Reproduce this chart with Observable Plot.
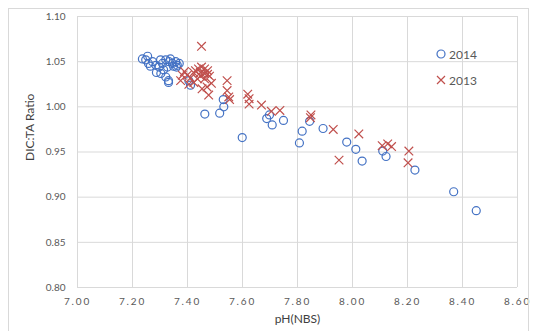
<!DOCTYPE html>
<html>
<head>
<meta charset="utf-8">
<script src="https://cdn.jsdelivr.net/npm/d3@7"></script>
<script src="https://cdn.jsdelivr.net/npm/@observablehq/plot@0.6"></script>
<style>
  html, body { margin: 0; padding: 0; background: #fff; }
  #wrap { position: relative; width: 533px; height: 331px; overflow: hidden; }
  #frame { position: absolute; left: 8px; top: 8px; width: 521px; height: 330px; border: 1px solid #d9d9d9; box-sizing: border-box; pointer-events: none; }
  #legend { position: absolute; left: 435px; top: 45px; font: 12px Lato, "Liberation Sans", sans-serif; color: #595959; }
  #legend .row { display: flex; align-items: center; height: 18px; margin-bottom: 8px; }
  #legend svg { margin-right: 2px; }
  .xt text { letter-spacing: 1.8px; }
</style>
</head>
<body>
<div id="wrap">
  <div id="chart"></div>
  <div id="frame"></div>
  <div id="legend"></div>
</div>
<script>
// ---- Data ----
const seriesNames = ["2014", "2013"];
const seriesColors = ["#4472C4", "#C0504D"];

const ph2014 = [7.236, 7.248, 7.258, 7.255, 7.273, 7.265, 7.285, 7.297, 7.309, 7.302,
  7.321, 7.333, 7.345, 7.357, 7.370, 7.338, 7.327, 7.349, 7.360, 7.313,
  7.287, 7.303, 7.321, 7.331, 7.331, 7.363, 7.405, 7.411,
  7.463, 7.517, 7.532, 7.530, 7.599, 7.688, 7.698, 7.708, 7.749, 7.817,
  7.807, 7.844, 7.893, 7.979, 8.012, 8.035, 8.110, 8.122, 8.227, 8.368, 8.450];
const ratio2014 = [1.053, 1.052, 1.048, 1.056, 1.050, 1.045, 1.046, 1.044, 1.048, 1.052,
  1.052, 1.050, 1.048, 1.050, 1.048, 1.053, 1.044, 1.045, 1.044, 1.041,
  1.038, 1.037, 1.033, 1.029, 1.027, 1.046, 1.029, 1.024,
  0.992, 0.993, 1.000, 1.008, 0.966, 0.987, 0.991, 0.980, 0.985, 0.973,
  0.960, 0.984, 0.976, 0.961, 0.953, 0.940, 0.951, 0.945, 0.930, 0.906, 0.885];

const ph2013 = [7.451, 7.429, 7.440, 7.451, 7.462, 7.473, 7.447, 7.462, 7.473, 7.447,
  7.436, 7.462, 7.480, 7.422, 7.381, 7.375, 7.399, 7.389, 7.423, 7.453,
  7.471, 7.477, 7.487, 7.411, 7.405, 7.544, 7.544, 7.550, 7.553, 7.619,
  7.624, 7.624, 7.669, 7.705, 7.736, 7.849, 7.847, 7.930, 7.951, 8.023,
  8.108, 8.128, 8.142, 8.205, 8.202];
const ratio2013 = [1.067, 1.040, 1.042, 1.044, 1.042, 1.040, 1.038, 1.037, 1.036, 1.034,
  1.031, 1.031, 1.034, 1.038, 1.035, 1.029, 1.035, 1.039, 1.027, 1.020,
  1.022, 1.013, 1.026, 1.032, 1.025, 1.029, 1.018, 1.011, 1.008, 1.014,
  1.009, 1.003, 1.002, 0.995, 0.996, 0.991, 0.988, 0.975, 0.941, 0.970,
  0.957, 0.959, 0.956, 0.951, 0.938];

const xTicks = [7.0, 7.2, 7.4, 7.6, 7.8, 8.0, 8.2, 8.4, 8.6];
const yTicks = [0.80, 0.85, 0.90, 0.95, 1.00, 1.05, 1.10];
const xTitle = "pH(NBS)";
const yTitle = "DIC:TA Ratio";

// ---- Build tables ----
const d2014 = ph2014.map((x, i) => ({x, y: ratio2014[i]}));
const d2013 = ph2013.map((x, i) => ({x, y: ratio2013[i]}));

const font = "Lato, 'Liberation Sans', sans-serif";

const chart = Plot.plot({
  width: 533,
  height: 331,
  marginLeft: 77,
  marginRight: 16,
  marginTop: 16,
  marginBottom: 44,
  style: {fontFamily: font, background: "transparent", overflow: "visible"},
  x: {domain: [7.0, 8.6]},
  y: {domain: [0.80, 1.10]},
  marks: [
    Plot.gridX(xTicks, {stroke: "#d9d9d9", strokeOpacity: 1, strokeWidth: 1}),
    Plot.gridY(yTicks, {stroke: "#d9d9d9", strokeOpacity: 1, strokeWidth: 1}),
    Plot.axisX(xTicks, {tickSize: 0, tickPadding: 10, tickFormat: d => d.toFixed(2), fontSize: 10, fill: "#595959", label: null, className: "xt"}),
    Plot.axisY(yTicks, {tickSize: 0, tickPadding: 12, tickFormat: d => d.toFixed(2), fontSize: 10, fill: "#595959", label: null}),
    Plot.dot(d2014, {x: "x", y: "y", r: 4, stroke: seriesColors[0], strokeWidth: 1.2, fill: "none"}),
    Plot.dot(d2013, {x: "x", y: "y", r: 4, symbol: "times", stroke: seriesColors[1], strokeWidth: 1.2}),
    Plot.text([xTitle], {frameAnchor: "bottom", dy: 35, fontSize: 12, fill: "#404040", text: d => d}),
    Plot.text([yTitle], {frameAnchor: "left", dx: -47, dy: 9, rotate: -90, fontSize: 12, fill: "#404040", text: d => d})
  ]
});
document.getElementById("chart").appendChild(chart);

// ---- Legend ----
const legend = document.getElementById("legend");
seriesNames.forEach((name, i) => {
  const row = document.createElement("div");
  row.className = "row";
  const icon = i === 0
    ? `<svg width="12" height="12"><circle cx="6" cy="6" r="4" fill="none" stroke="${seriesColors[i]}" stroke-width="1.2"/></svg>`
    : `<svg width="12" height="12"><path d="M2,2L10,10M10,2L2,10" stroke="${seriesColors[i]}" stroke-width="1.2"/></svg>`;
  row.innerHTML = icon + `<span>${name}</span>`;
  legend.appendChild(row);
});
</script>
</body>
</html>
